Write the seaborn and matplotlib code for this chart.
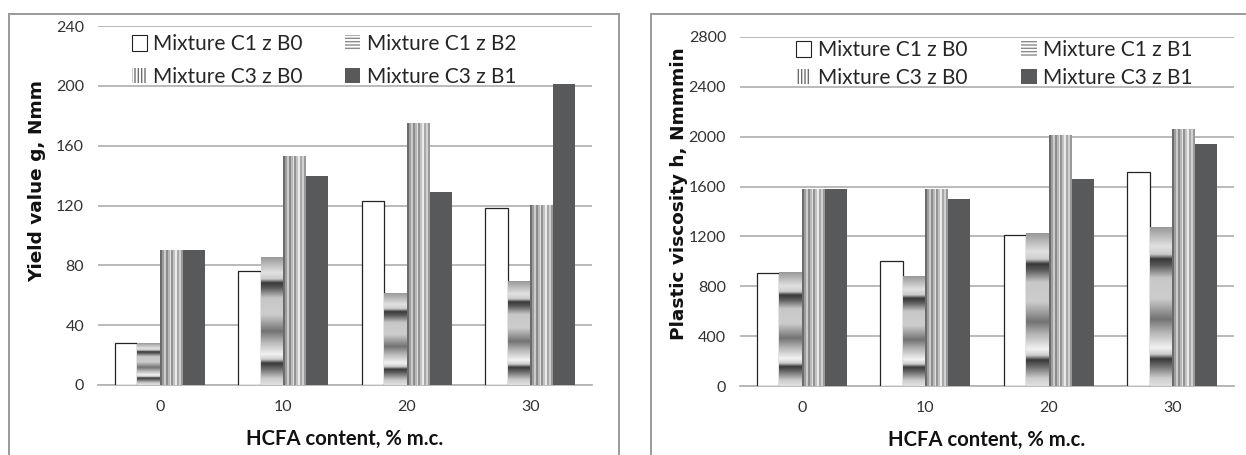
import numpy as np
import pandas as pd
import matplotlib
matplotlib.use("Agg")
import matplotlib.pyplot as plt
from matplotlib.patches import Patch, Rectangle
import seaborn as sns

# ---------------- data ----------------
categories = ['0', '10', '20', '30']

yield_series = ['Mixture C1 z B0', 'Mixture C1 z B2', 'Mixture C3 z B0', 'Mixture C3 z B1']
yield_c1_b0 = [28, 76, 123, 118]
yield_c1_b2 = [28, 85, 61, 69]
yield_c3_b0 = [90, 153, 175, 120]
yield_c3_b1 = [90, 140, 129, 201]
yield_ticks = [0, 40, 80, 120, 160, 200, 240]

visc_series = ['Mixture C1 z B0', 'Mixture C1 z B1', 'Mixture C3 z B0', 'Mixture C3 z B1']
visc_c1_b0 = [910, 1000, 1210, 1720]
visc_c1_b1 = [910, 880, 1220, 1270]
visc_c3_b0 = [1580, 1580, 2010, 2060]
visc_c3_b1 = [1580, 1500, 1660, 1940]
visc_ticks = [0, 400, 800, 1200, 1600, 2000, 2400, 2800]

x_label = 'HCFA content, % m.c.'
yield_label = 'Yield value g, Nmm'
visc_label = 'Plastic viscosity h, Nmmmin'


def long_frame(series_names, columns):
    rows = []
    for name, vals in zip(series_names, columns):
        for c, v in zip(categories, vals):
            rows.append({'content': c, 'series': name, 'value': v})
    return pd.DataFrame(rows)


df_yield = long_frame(yield_series, [yield_c1_b0, yield_c1_b2, yield_c3_b0, yield_c3_b1])
df_visc = long_frame(visc_series, [visc_c1_b0, visc_c1_b1, visc_c3_b0, visc_c3_b1])

# ---------------- style ----------------
sns.set_style('white')
plt.rcParams['font.family'] = ['Lato', 'DejaVu Sans']
plt.rcParams['hatch.linewidth'] = 1.0

DARK = '#58595b'
GRID = '#b4b4b4'
TICKC = '#333333'

# texture profiles (style only)
band_pos = [0.00, 0.12, 0.17, 0.20, 0.24, 0.32, 0.45, 0.58, 0.66, 0.76, 0.80, 0.83, 0.87, 0.95, 1.00]
band_val = [0.60, 0.88, 0.80, 0.22, 0.35, 0.78, 0.80, 0.45, 0.70, 0.95, 0.80, 0.22, 0.40, 0.80, 0.88]
band_img = np.interp(np.linspace(0, 1, 300), band_pos, band_val).reshape(-1, 1)
stripe_img = np.array([[0.42, 0.62, 0.80, 0.55, 0.72, 0.88, 0.58, 0.76, 0.92, 0.66, 0.82, 0.60]])

fig = plt.figure(figsize=(12.46, 4.55), dpi=100)

# panel borders
fig.add_artist(Rectangle((9 / 1246, -0.1), 610 / 1246, 1.1 - 14 / 455,
                         transform=fig.transFigure, fill=False, edgecolor='#9a9a9a', lw=1.4))
fig.add_artist(Rectangle((651 / 1246, -0.1), 0.6, 1.1 - 14 / 455,
                         transform=fig.transFigure, fill=False, edgecolor='#9a9a9a', lw=1.4))

ax1 = fig.add_axes([98 / 1246, 70 / 455, 494 / 1246, 359 / 455])
ax2 = fig.add_axes([740 / 1246, 69 / 455, 494 / 1246, 349 / 455])


def legend_handles(names):
    h = [
        Patch(facecolor='white', edgecolor='#222222', lw=0.8, label=names[0]),
        Patch(facecolor='white', edgecolor='#8a8a8a', hatch='-----', lw=0, label=names[1]),
        Patch(facecolor='white', edgecolor='#6e6e6e', hatch='|||||', lw=0, label=names[2]),
        Patch(facecolor=DARK, edgecolor=DARK, lw=0, label=names[3]),
    ]
    # row-wise order for a 2-column legend
    return [h[0], h[2], h[1], h[3]]


def draw(ax, df, names, ticks, ylab, ylab_x, ylab_y, xlab_y, leg_anchor, colsp, lsp):
    palette = {names[0]: 'white', names[1]: '#c8c8c8', names[2]: '#9a9a9a', names[3]: DARK}
    sns.barplot(data=df, x='content', y='value', hue='series', order=categories,
                hue_order=names, palette=palette, width=0.73, saturation=1,
                legend=False, ax=ax, zorder=3)
    for i, cont in enumerate(ax.containers):
        for bar in cont:
            x0, w, h = bar.get_x(), bar.get_width(), bar.get_height()
            if i == 0:
                bar.set_edgecolor('#222222')
                bar.set_linewidth(0.9)
            elif i == 1:
                bar.set_facecolor('none')
                bar.set_linewidth(0)
                ax.imshow(band_img, extent=[x0, x0 + w, 0, h], aspect='auto',
                          cmap='gray', vmin=0, vmax=1, interpolation='bilinear', zorder=3)
            elif i == 2:
                bar.set_facecolor('none')
                bar.set_linewidth(0)
                ax.imshow(stripe_img, extent=[x0, x0 + w, 0, h], aspect='auto',
                          cmap='gray', vmin=0, vmax=1, interpolation='nearest', zorder=3)
            else:
                bar.set_linewidth(0)
    ax.set_xlim(-0.5, len(categories) - 0.5)
    ax.set_ylim(ticks[0], ticks[-1])
    ax.set_yticks(ticks)
    ax.set_yticklabels([str(t) for t in ticks])
    ax.grid(axis='y', color=GRID, lw=1.3, zorder=0)
    ax.set_axisbelow(True)
    for s in ['left', 'right', 'top']:
        ax.spines[s].set_visible(False)
    ax.spines['bottom'].set_color(GRID)
    ax.spines['bottom'].set_linewidth(1.3)
    ax.tick_params(axis='both', length=0, labelsize=11.5, labelcolor=TICKC)
    ax.tick_params(axis='y', pad=10)
    ax.tick_params(axis='x', pad=11)
    ax.set_xlabel(x_label, fontsize=14.6, fontweight='bold', color='#111111')
    ax.set_ylabel(ylab, fontsize=13.3, fontweight='bold', color='#111111', family='DejaVu Sans')
    ax.yaxis.set_label_coords(ylab_x, ylab_y)
    ax.xaxis.set_label_coords(0.5, xlab_y)
    ax.legend(handles=legend_handles(names), loc='center left', bbox_to_anchor=leg_anchor,
              ncol=2, frameon=False, fontsize=15, handlelength=0.75, handleheight=0.75,
              handletextpad=0.3, columnspacing=colsp, labelspacing=lsp, borderaxespad=0,
              borderpad=0)


draw(ax1, df_yield, yield_series, yield_ticks, yield_label, -0.104, 0.568, -0.122,
     (0.068, 0.904), 2.0, 0.6)
draw(ax2, df_visc, visc_series, visc_ticks, visc_label, -0.106, 0.55, -0.125,
     (0.113, 0.923), 2.6, 0.35)

fig.savefig('out.png', dpi=100)
